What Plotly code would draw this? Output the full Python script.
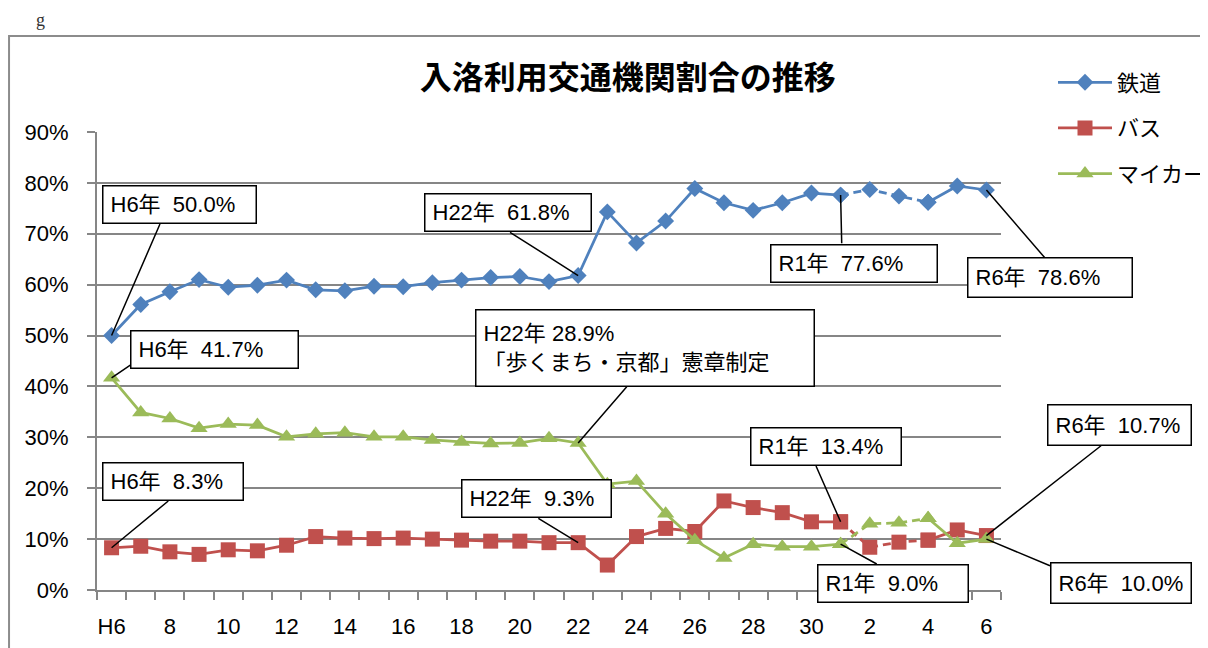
import plotly.graph_objects as go

# ---------------- data ----------------
years = ["H6", "H7", "H8", "H9", "H10", "H11", "H12", "H13", "H14", "H15", "H16",
         "H17", "H18", "H19", "H20", "H21", "H22", "H23", "H24", "H25", "H26",
         "H27", "H28", "H29", "H30", "R1", "R2", "R3", "R4", "R5", "R6"]
tick_text = ["H6", "8", "10", "12", "14", "16", "18", "20", "22", "24", "26",
             "28", "30", "2", "4", "6"]

railway = [50.0, 56.1, 58.6, 61.0, 59.5, 59.9, 60.9, 59.0, 58.8, 59.7, 59.6,
           60.4, 60.9, 61.4, 61.6, 60.6, 61.8, 74.3, 68.2, 72.5, 78.9,
           76.1, 74.6, 76.1, 78.0, 77.6, 78.7, 77.4, 76.2, 79.4, 78.6]
bus = [8.3, 8.6, 7.5, 7.0, 7.9, 7.7, 8.8, 10.5, 10.2, 10.1, 10.2,
       10.0, 9.8, 9.6, 9.6, 9.3, 9.3, 4.9, 10.5, 12.1, 11.5,
       17.5, 16.2, 15.2, 13.4, 13.4, 8.4, 9.4, 9.8, 11.8, 10.7]
car = [41.7, 34.9, 33.7, 31.8, 32.6, 32.4, 30.1, 30.7, 30.9, 30.1, 30.1,
       29.5, 29.1, 28.8, 28.9, 29.8, 28.9, 20.8, 21.4, 15.0, 9.8,
       6.3, 9.0, 8.5, 8.5, 9.0, 13.0, 13.2, 14.1, 9.2, 10.0]

series_names = ["鉄道", "バス", "マイカー"]

# ---------------- style ----------------
FONT = "Liberation Sans, Noto Sans CJK JP, sans-serif"
colors = ["#4F81BD", "#C0504D", "#9BBB59"]
symbols = ["diamond", "square", "triangle-up"]
msizes = [13, 15, 15]
GRID = "#868686"
DASH_FROM, DASH_TO = 25, 28   # R1 .. R4 drawn dashed

x_idx = list(range(len(years)))
tick_pos = x_idx[::2]

fig = go.Figure()
for k, (name, vals) in enumerate(zip(series_names, [railway, bus, car])):
    solid = [v if not (DASH_FROM < i < DASH_TO) else None for i, v in enumerate(vals)]
    dashed = [v if DASH_FROM <= i <= DASH_TO else None for i, v in enumerate(vals)]
    fig.add_trace(go.Scatter(
        x=x_idx, y=dashed, mode="lines+markers", showlegend=False,
        legendgroup=name, connectgaps=False,
        line=dict(color=colors[k], width=2.75, dash="8px,5px"),
        marker=dict(symbol=symbols[k], size=msizes[k], color=colors[k]),
        hoverinfo="skip"))
    fig.add_trace(go.Scatter(
        x=x_idx, y=solid, mode="lines+markers", name=name,
        legendgroup=name, connectgaps=False,
        line=dict(color=colors[k], width=2.75),
        marker=dict(symbol=symbols[k], size=msizes[k], color=colors[k])))

# callouts: (series values, year, text, box dx, box dy, box w, box h, line dx, line dy)
callouts = [
    (railway, "H6", "H6年  50.0%", 67.6, -131, 155, 39, 48.4, -111.5),
    (railway, "H22", "H22年  61.8%", -70.6, -62.7, 168, 39, -68.1, -43.2),
    (railway, "R1", "R1年  77.6%", 13.6, 67.9, 168, 39, 1.1, 48.2),
    (railway, "R6", "R6年  78.6%", 63.5, 87.2, 166, 41, 58.6, 68.0),
    (car, "H6", "H6年  41.7%", 103.4, -28.1, 169, 39, 19.1, -12.8),
    (car, "H22", "H22年 28.9%<br>「歩くまち・京都」憲章制定", 66.9, -95.4, 340, 78, 48.6, -56.2),
    (bus, "H6", "H6年  8.3%", 61.9, -66.1, 142, 39, 56.7, -46.8),
    (bus, "H22", "H22年  9.3%", -41.7, -43.9, 151, 39, -39.8, -24.4),
    (bus, "R1", "R1年  13.4%", -14.7, -75.1, 152, 39, -24.6, -55.8),
    (car, "R1", "R1年  9.0%", 52.7, 39.2, 152, 39, 36.1, 19.8),
    (bus, "R6", "R6年  10.7%", 133.0, -110.6, 145, 42, 114.6, -89.8),
    (car, "R6", "R6年  10.0%", 134.6, 44.1, 142, 42, 63.6, 26.6),
]

annotations = []
BW, PAD = 1.5, 7
for vals, yr, text, bdx, bdy, bw, bh, ldx, ldy in callouts:
    i = years.index(yr)
    annotations.append(dict(
        x=i, y=vals[i], xref="x", yref="y", text=" ", showarrow=True,
        arrowhead=0, arrowwidth=1.5, arrowcolor="#000000", standoff=0,
        startstandoff=0, ax=ldx, ay=ldy, axref="pixel", ayref="pixel",
        font=dict(size=1), bgcolor="rgba(0,0,0,0)", borderwidth=0, borderpad=0))
for vals, yr, text, bdx, bdy, bw, bh, ldx, ldy in callouts:
    i = years.index(yr)
    annotations.append(dict(
        x=i, y=vals[i], xref="x", yref="y", text=text, showarrow=False,
        xshift=bdx, yshift=-bdy, xanchor="center", yanchor="middle",
        width=bw - 2 * (BW + PAD), height=bh - 2 * (BW + PAD),
        align="left", valign="middle",
        bgcolor="#FFFFFF", bordercolor="#000000", borderwidth=BW, borderpad=PAD,
        font=dict(family=FONT, size=22, color="#000000")))

annotations.append(dict(
    x=-0.063, y=1.2445, xref="paper", yref="paper", text="g", showarrow=False,
    xanchor="center", yanchor="middle",
    font=dict(family="Liberation Serif, DejaVu Serif, serif", size=18, color="#333333")))

W, H = 1200, 640
fig.update_layout(
    width=W, height=H,
    margin=dict(l=89, r=207, t=124, b=58, autoexpand=False),
    paper_bgcolor="#FFFFFF", plot_bgcolor="#FFFFFF",
    font=dict(family=FONT, size=22, color="#000000"),
    title=dict(text="入洛利用交通機関割合の推移", xref="paper", x=0.587, xanchor="center",
               yref="container", y=1 - 70 / H, yanchor="middle",
               font=dict(family="Noto Sans CJK JP, sans-serif", size=32,
                         weight="bold", color="#000000")),
    showlegend=True,
    legend=dict(xref="container", yref="container",
                x=1045 / W, xanchor="left", y=1 - 53.5 / H, yanchor="top",
                font=dict(family=FONT, size=22, color="#000000"),
                tracegroupgap=14, itemwidth=54, bgcolor="rgba(0,0,0,0)",
                traceorder="grouped"),
    annotations=annotations,
    shapes=[dict(type="rect", xref="paper", yref="paper",
                 x0=-0.0973, x1=1.6, y0=-0.6, y1=1.2096,
                 line=dict(color="#8C8C8C", width=2), layer="below")],
)

fig.update_xaxes(
    range=[-0.5, len(years) - 0.5], tickmode="array",
    tickvals=tick_pos, ticktext=tick_text, ticks="", showgrid=False,
    showline=True, linecolor=GRID, linewidth=2, zeroline=False,
    ticklabelstandoff=16,
    tickfont=dict(family=FONT, size=22, color="#000000"),
    minor=dict(tickmode="array", tickvals=[p - 0.5 for p in x_idx] + [len(years) - 0.5],
               ticks="outside", ticklen=8, tickwidth=2, tickcolor=GRID, showgrid=False),
)
fig.update_yaxes(
    range=[0, 90], dtick=10, ticksuffix="%", showgrid=True, gridcolor=GRID,
    gridwidth=2, showline=True, linecolor=GRID, linewidth=2, zeroline=False,
    ticks="outside", ticklen=8, tickwidth=2, tickcolor=GRID,
    ticklabelstandoff=14,
    tickfont=dict(family=FONT, size=22, color="#000000"),
)

fig.write_html("out.html")
